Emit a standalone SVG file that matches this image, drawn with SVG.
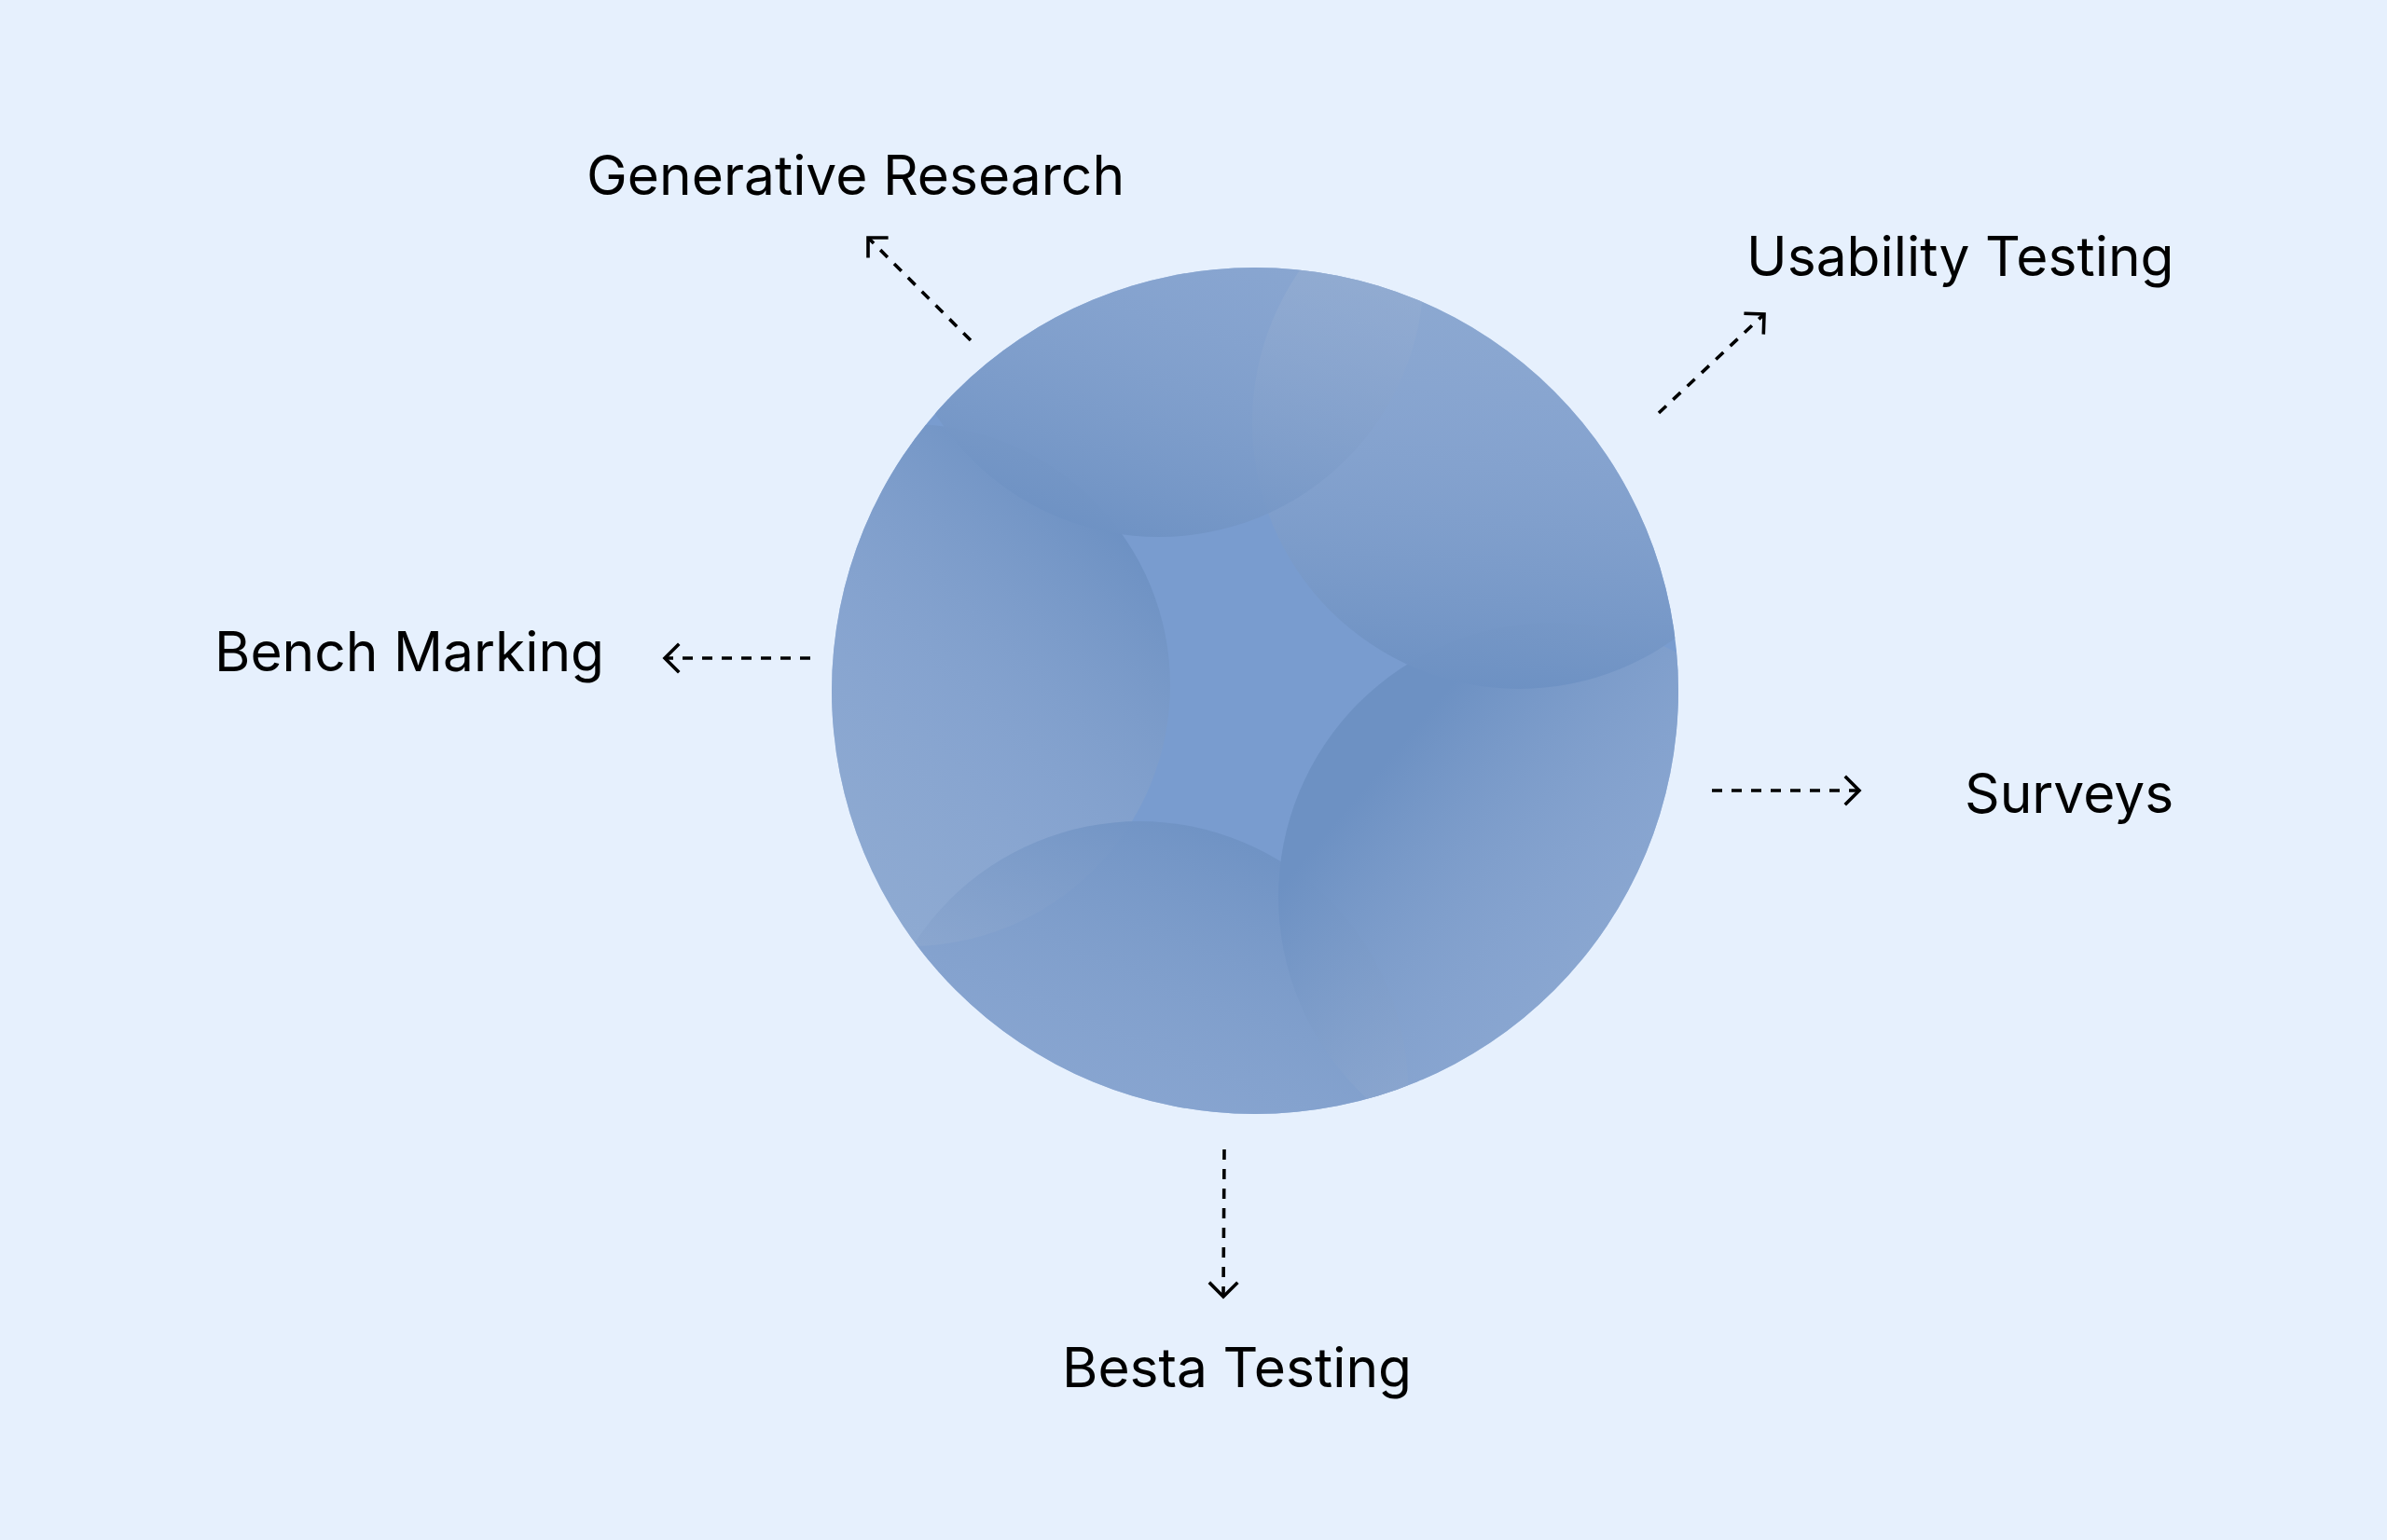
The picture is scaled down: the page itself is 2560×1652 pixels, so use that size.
<svg xmlns="http://www.w3.org/2000/svg" width="2560" height="1652" viewBox="0 0 2560 1652">
  <style>
    .lbl { font-family: Inter, "Liberation Sans", sans-serif; font-size: 58.7px; fill: #000; }
    .conn { fill: none; stroke: #000; stroke-width: 3.6; stroke-dasharray: 11 10; }
    .s0 { stop-color: #adbfd6; stop-opacity: 0.42; }
    .s1 { stop-color: #8fa9d0; stop-opacity: 0.62; }
    .s2 { stop-color: #6d91c3; stop-opacity: 1; }
  </style>
  <defs>
    <marker id="chev" markerUnits="userSpaceOnUse" markerWidth="40" markerHeight="40" viewBox="-20 -20 40 40" refX="0" refY="0" orient="auto">
      <path d="M-14,-14 L0,0 L-14,14" fill="none" stroke="#000" stroke-width="3.6" stroke-linecap="square" stroke-linejoin="miter"/>
    </marker>
    <clipPath id="disc"><circle cx="1346" cy="741" r="454"/></clipPath>
    <linearGradient id="g1" x1="0.65" y1="0" x2="0.35" y2="1">
      <stop offset="0" class="s0"/><stop offset="0.5" class="s1"/><stop offset="1" class="s2"/>
    </linearGradient>
    <linearGradient id="g2" x1="0.55" y1="0" x2="0.45" y2="1">
      <stop offset="0" class="s0"/><stop offset="0.5" class="s1"/><stop offset="1" class="s2"/>
    </linearGradient>
    <linearGradient id="g3" x1="0.15" y1="0.85" x2="0.85" y2="0.15">
      <stop offset="0" class="s0"/><stop offset="0.5" class="s1"/><stop offset="1" class="s2"/>
    </linearGradient>
    <linearGradient id="g4" x1="0.85" y1="0.8" x2="0.2" y2="0.25">
      <stop offset="0" class="s0"/><stop offset="0.5" class="s1"/><stop offset="1" class="s2"/>
    </linearGradient>
    <linearGradient id="g5" x1="0.3" y1="1" x2="0.7" y2="0">
      <stop offset="0" class="s0"/><stop offset="0.5" class="s1"/><stop offset="1" class="s2"/>
    </linearGradient>
  </defs>

  <rect x="0" y="0" width="2560" height="1652" fill="#e6f0fd"/>

  <g id="node-core">
    <circle cx="1346" cy="741" r="454" fill="#799ccf"/>
    <g clip-path="url(#disc)">
      <circle cx="975" cy="735" r="280" fill="url(#g3)"/>
      <circle cx="1222" cy="1169" r="288" fill="url(#g5)"/>
      <circle cx="1665" cy="962" r="294" fill="url(#g4)"/>
      <circle cx="1629" cy="453" r="286" fill="url(#g2)"/>
      <circle cx="1243" cy="292" r="284" fill="url(#g1)"/>
    </g>
  </g>

  <g id="node-generative"><text class="lbl" x="629" y="209">Generative Research</text></g>
  <g id="node-usability"><text class="lbl" x="1873" y="296">Usability Testing</text></g>
  <g id="node-bench"><text class="lbl" x="230" y="720">Bench Marking</text></g>
  <g id="node-surveys"><text class="lbl" x="2107" y="872">Surveys</text></g>
  <g id="node-besta"><text class="lbl" x="1139" y="1488">Besta Testing</text></g>

  <g id="connectors">
    <path class="conn" d="M1041,365 L931,255" marker-end="url(#chev)"/>
    <path class="conn" d="M1779,443 L1892,337" marker-end="url(#chev)"/>
    <path class="conn" d="M869,706 L713,706" marker-end="url(#chev)"/>
    <path class="conn" d="M1836,848 L1994,848" marker-end="url(#chev)"/>
    <path class="conn" d="M1313,1233 L1312,1391" marker-end="url(#chev)"/>
  </g>
</svg>
